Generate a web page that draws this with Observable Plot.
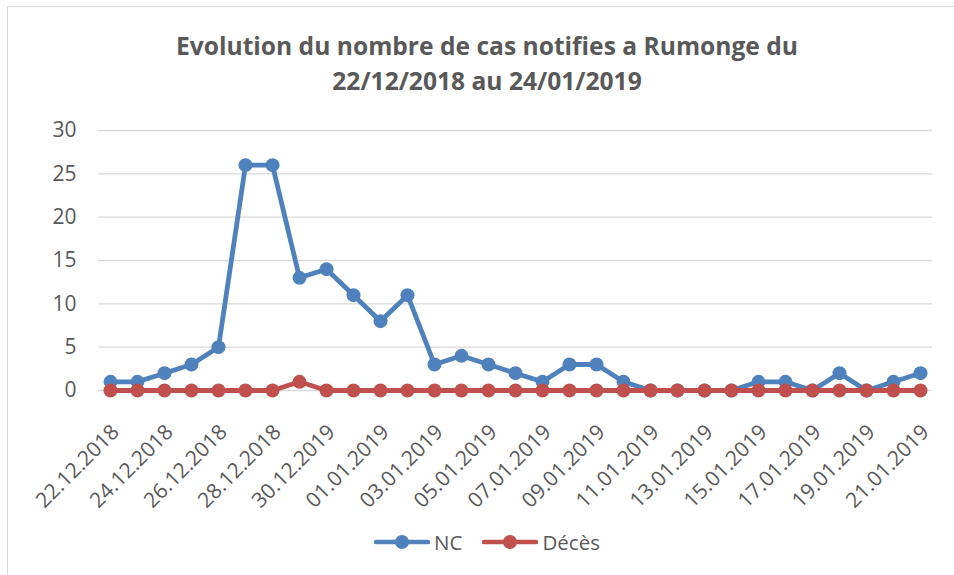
<!DOCTYPE html>
<html><head><meta charset="utf-8">
<script src="https://cdn.jsdelivr.net/npm/d3@7"></script>
<script src="https://cdn.jsdelivr.net/npm/@observablehq/plot@0.6"></script>
<style>
body{margin:0;background:#fff;}
#wrap{position:relative;width:954px;height:575px;overflow:hidden;font-family:"Open Sans",sans-serif;background:#fff;}
#frame{position:absolute;left:7px;top:6px;width:990px;height:620px;border:1.5px solid #d9d9d9;box-sizing:border-box;}
#title{position:absolute;left:7px;width:960px;top:28px;text-align:center;font-weight:bold;font-size:24.6px;line-height:35px;color:#595959;}
#chart{position:absolute;left:0;top:100px;}
#legend{position:absolute;left:7px;width:960px;top:528px;display:flex;justify-content:center;align-items:center;gap:20px;font-size:20.5px;color:#595959;}
.item{display:flex;align-items:center;gap:4px;}
</style>
</head><body>
<div id="wrap">
  <div id="frame"></div>
  <div id="title">Evolution du nombre de cas notifies a Rumonge du<br>22/12/2018 au 24/01/2019</div>
  <div id="chart"></div>
  <div id="legend"></div>
</div>
<script>
const dates = ["22.12.2018","23.12.2018","24.12.2018","25.12.2018","26.12.2018","27.12.2018","28.12.2018","29.12.2018","30.12.2019","31.12.2019","01.01.2019","02.01.2019","03.01.2019","04.01.2019","05.01.2019","06.01.2019","07.01.2019","08.01.2019","09.01.2019","10.01.2019","11.01.2019","12.01.2019","13.01.2019","14.01.2019","15.01.2019","16.01.2019","17.01.2019","18.01.2019","19.01.2019","20.01.2019","21.01.2019"];
const nc =     [1,1,2,3,5,26,26,13,14,11,8,11,3,4,3,2,1,3,3,1,0,0,0,0,1,1,0,2,0,1,2];
const deces =  [0,0,0,0,0,0,0,1,0,0,0,0,0,0,0,0,0,0,0,0,0,0,0,0,0,0,0,0,0,0,0];
const yTicks = [0,5,10,15,20,25,30];
const xTickLabels = dates.filter((d,i) => i % 2 === 0);
const seriesNames = ["NC","Décès"];
const colors = ["#4F81BD","#C0504D"];

const ncData = dates.map((d,i) => ({date:d, v:nc[i]}));
const dcData = dates.map((d,i) => ({date:d, v:deces[i]}));

const chart = Plot.plot({
  width: 954,
  height: 420,
  marginLeft: 98,
  marginRight: 22,
  marginTop: 30,
  marginBottom: 130,
  style: {fontFamily: "Open Sans, sans-serif", color: "#595959", background: "transparent"},
  x: {type: "point", domain: dates, padding: 0.3},
  y: {domain: [0, 30]},
  marks: [
    Plot.ruleY(yTicks, {stroke: "#d9d9d9", strokeWidth: 1.3}),
    Plot.axisY({ticks: yTicks, tickSize: 0, tickPadding: 22, fontSize: 21, label: null}),
    Plot.axisX({ticks: xTickLabels, tickSize: 0, tickPadding: 38, tickRotate: -45, fontSize: 21, dx: 5, label: null}),
    Plot.line(ncData, {x: "date", y: "v", stroke: colors[0], strokeWidth: 4.8, strokeLinejoin: "round"}),
    Plot.dot(ncData, {x: "date", y: "v", r: 7, fill: colors[0]}),
    Plot.line(dcData, {x: "date", y: "v", stroke: colors[1], strokeWidth: 4.8, strokeLinejoin: "round"}),
    Plot.dot(dcData, {x: "date", y: "v", r: 7, fill: colors[1]})
  ]
});
document.getElementById("chart").appendChild(chart);

const legend = document.getElementById("legend");
seriesNames.forEach((name, i) => {
  const item = document.createElement("div");
  item.className = "item";
  item.innerHTML = `<svg width="56" height="16"><line x1="2" y1="8" x2="54" y2="8" stroke="${colors[i]}" stroke-width="4.5" stroke-linecap="round"/><circle cx="28" cy="8" r="7" fill="${colors[i]}"/></svg><span>${name}</span>`;
  legend.appendChild(item);
});
</script>
</body></html>
